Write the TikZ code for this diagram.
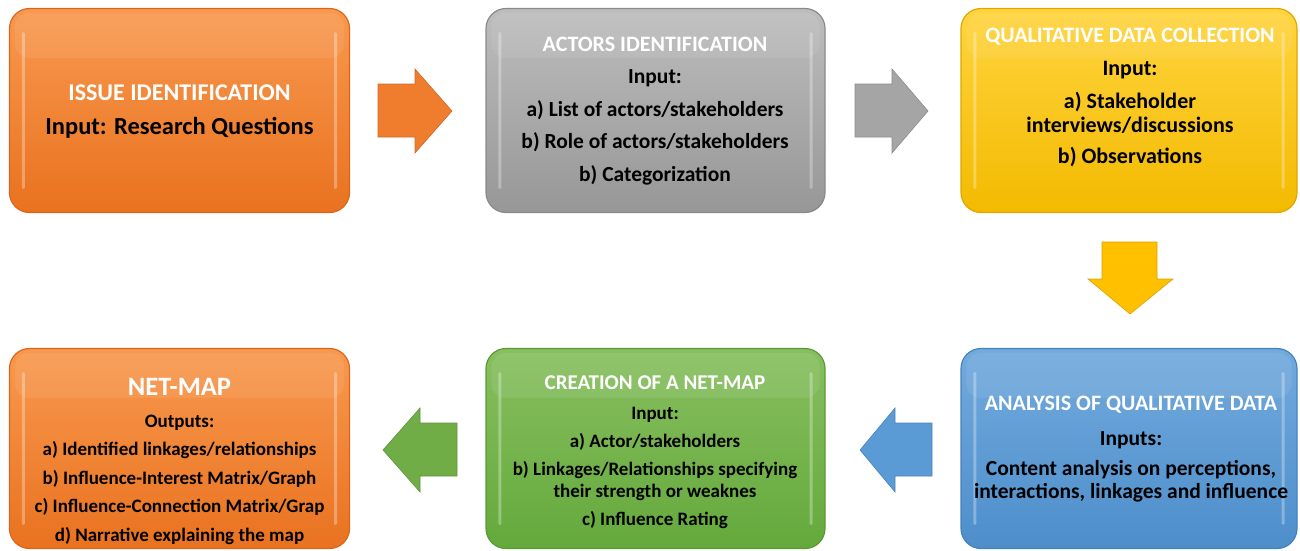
\documentclass[tikz,border=0pt]{standalone}
\usepackage{fontspec}
\setmainfont{Carlito}
\usetikzlibrary{calc}
\definecolor{orA}{HTML}{F8994F}\definecolor{orB}{HTML}{E9721F}\definecolor{orD}{HTML}{D9661A}\definecolor{orM}{HTML}{F07D2E}
\definecolor{grA}{HTML}{BDBDBD}\definecolor{grB}{HTML}{979797}\definecolor{grD}{HTML}{8A8A8A}\definecolor{grM}{HTML}{A5A5A5}
\definecolor{yeA}{HTML}{FFD43F}\definecolor{yeB}{HTML}{F3BA00}\definecolor{yeD}{HTML}{DDA800}\definecolor{yeM}{HTML}{FFC000}
\definecolor{gnA}{HTML}{88BF60}\definecolor{gnB}{HTML}{64A93C}\definecolor{gnD}{HTML}{5A9A34}\definecolor{gnM}{HTML}{70AD47}
\definecolor{blA}{HTML}{72AADD}\definecolor{blB}{HTML}{4D8ECB}\definecolor{blD}{HTML}{4682BC}\definecolor{blM}{HTML}{5B9BD5}
\tikzset{
  gelbox/.style n args={3}{draw=#3, line width=1.2pt, rounded corners=20pt, top color=#1, bottom color=#2, minimum width=340pt, minimum height=204pt, inner sep=0pt},
  hl/.style={fill=white, opacity=0.3, rounded corners=1.5pt},
  ttl/.style={text=white, font=\bfseries\fontsize{#1}{#1}\selectfont, inner sep=0pt, anchor=center},
  txt/.style={text=black, font=\bfseries\fontsize{#1}{#1}\selectfont, inner sep=0pt, anchor=center},
  blockarrow/.style={fill=#1, draw=#1!85!black, line width=0.6pt, line join=miter},
}
\begin{document}
\begin{tikzpicture}[x=1pt,y=-1pt]
\useasboundingbox (0,0) rectangle (1300,550);
% boxes
\node[gelbox={orA}{orB}{orD}] (b1) at (179.5,110.5) {};
\node[gelbox={grA}{grB}{grD}, minimum width=339pt] (b2) at (655.5,110.5) {};
\node[gelbox={yeA}{yeB}{yeD}, minimum width=336pt] (b3) at (1129,110.5) {};
\node[gelbox={blA}{blB}{blD}, minimum width=336pt, minimum height=200pt] (b6) at (1129,448.5) {};
\node[gelbox={gnA}{gnB}{gnD}, minimum width=339pt, minimum height=200pt] (b5) at (655.5,448.5) {};
\node[gelbox={orA}{orB}{orD}, minimum height=200pt] (b4) at (179.5,448.5) {};
% highlights
\foreach \b in {b1,b2,b3,b4,b5,b6}{
  \fill[hl] ($(\b.north west)+(13,24)$) rectangle ($(\b.south west)+(16,-24)$);
  \fill[hl] ($(\b.north east)+(-16,24)$) rectangle ($(\b.south east)+(-13,-24)$);
  \fill[white, opacity=0.08, rounded corners=14pt] ($(\b.north west)+(6,5)$) rectangle ($(\b.north east)+(-6,50)$);
}
% box 1 text
\node[ttl=24] (t1a) at (179.5,93) {ISSUE IDENTIFICATION};
\node[txt=24.5] (t1b) at (179.5,128) {Input: Research Questions};
% box 2
\node[ttl=22] (t2a) at (655,44) {ACTORS IDENTIFICATION};
\node[txt=21.5] (t2b) at (655,78) {Input:};
\node[txt=21.5] (t2c) at (655,110) {a) List of actors/stakeholders};
\node[txt=21.5] (t2d) at (655,142) {b) Role of actors/stakeholders};
\node[txt=21.5] (t2e) at (655,175) {b) Categorization};
% box 3
\node[ttl=22] (t3a) at (1130,37) {QUALITATIVE DATA COLLECTION};
\node[txt=22] (t3b) at (1130,70) {Input:};
\node[txt=22] (t3c) at (1130,102) {a) Stakeholder};
\node[txt=22] (t3d) at (1130,125) {interviews/discussions};
\node[txt=22] (t3e) at (1130,157) {b) Observations};
% box 4
\node[ttl=26.5] (t4a) at (179.5,387) {NET-MAP};
\node[txt=19] (t4b) at (179.5,423) {Outputs:};
\node[txt=19] (t4c) at (179.5,450) {a) Identified linkages/relationships};
\node[txt=19] (t4d) at (179.5,479) {b) Influence-Interest Matrix/Graph};
\node[txt=19] (t4e) at (179.5,507) {c) Influence-Connection Matrix/Grap};
\node[txt=19] (t4f) at (179.5,536) {d) Narrative explaining the map};
% box 5
\node[ttl=21] (t5a) at (655,383) {CREATION OF A NET-MAP};
\node[txt=19] (t5b) at (655,415) {Input:};
\node[txt=19] (t5c) at (655,442) {a) Actor/stakeholders};
\node[txt=19] (t5d) at (655,470) {b) Linkages/Relationships specifying};
\node[txt=19] (t5e) at (655,492) {their strength or weaknes};
\node[txt=19] (t5f) at (655,520) {c) Influence Rating};
% box 6
\node[ttl=22] (t6a) at (1131,405) {ANALYSIS OF QUALITATIVE DATA};
\node[txt=21.5] (t6b) at (1131,440) {Inputs:};
\node[txt=21.5] (t6c) at (1131,470) {Content analysis on perceptions,};
\node[txt=21.5] (t6d) at (1131,493) {interactions, linkages and influence};
% arrows
\draw[blockarrow=orM] (378,84) -- (415,84) -- (415,69) -- (452,111) -- (415,153) -- (415,137) -- (378,137) -- cycle;
\draw[blockarrow=grM] (855,84) -- (892,84) -- (892,69) -- (928,111) -- (892,153) -- (892,137) -- (855,137) -- cycle;
\draw[blockarrow=yeM] (1102,242) -- (1157,242) -- (1157,279) -- (1173,279) -- (1130,314) -- (1088,279) -- (1102,279) -- cycle;
\draw[blockarrow=blM] (932,423) -- (895,423) -- (895,408) -- (860,450) -- (895,492) -- (895,476) -- (932,476) -- cycle;
\draw[blockarrow=gnM] (457,423) -- (420,423) -- (420,408) -- (383,450) -- (420,492) -- (420,476) -- (457,476) -- cycle;
\end{tikzpicture}
\end{document}
